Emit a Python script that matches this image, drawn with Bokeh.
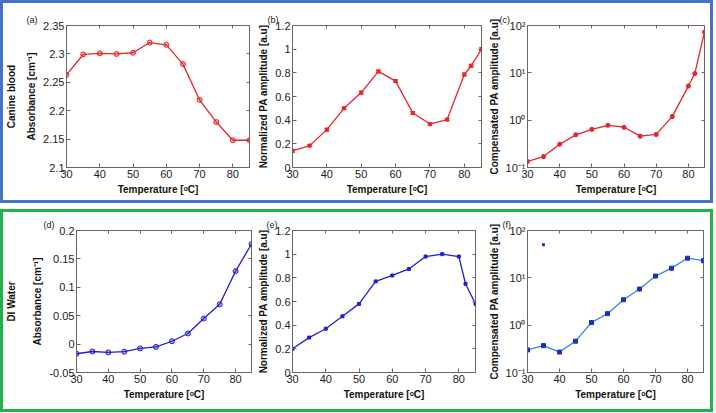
from bokeh.plotting import figure
from bokeh.layouts import row, column
from bokeh.models import (FixedTicker, LinearAxis, LogAxis, Whisker, TeeHead,
                          ColumnDataSource, CustomJSTickFormatter, Range1d)
from bokeh.embed import file_html
from bokeh.resources import INLINE

# ---------------- data ----------------
temp = [30, 35, 40, 45, 50, 55, 60, 65, 70, 75, 80, 85]
temp_pa = [30, 35, 40, 45, 50, 55, 60, 65, 70, 75, 80, 82, 85]

blood_abs = [2.263, 2.299, 2.301, 2.300, 2.302, 2.320, 2.316, 2.282, 2.219, 2.180, 2.148, 2.148]
blood_pa = [0.14, 0.185, 0.32, 0.50, 0.633, 0.812, 0.73, 0.46, 0.367, 0.405, 0.786, 0.86, 1.0]
blood_pa_err = [0.012, 0.01, 0.012, 0.01, 0.012, 0.012, 0.012, 0.012, 0.01, 0.01, 0.012, 0.012, 0.012]
blood_comp = [0.134, 0.17, 0.31, 0.49, 0.64, 0.78, 0.71, 0.46, 0.50, 1.2, 5.25, 9.7, 73.0]

water_abs = [-0.017, -0.013, -0.0146, -0.0134, -0.0076, -0.005, 0.005, 0.0187, 0.045, 0.070, 0.1285, 0.176]
water_pa = [0.20, 0.295, 0.37, 0.475, 0.58, 0.77, 0.82, 0.875, 0.98, 1.0, 0.98, 0.75, 0.58]
water_comp = [0.30, 0.37, 0.27, 0.46, 1.14, 1.75, 3.44, 5.8, 10.9, 16.0, 26.0, 23.0]
stray_x = [35]
stray_y = [50.0]

x_ticks = [30, 40, 50, 60, 70, 80]
abs_blood_ticks = [2.1, 2.15, 2.2, 2.25, 2.3, 2.35]
pa_ticks = [0, 0.2, 0.4, 0.6, 0.8, 1.0, 1.2]
abs_water_ticks = [-0.05, 0, 0.05, 0.1, 0.15, 0.2]
log_ticks = [0.1, 1, 10, 100]

RED = "#E4262B"
BLUE = "#2020D0"
LBLUE = "#3A86D8"
DBLUE = "#1A2FC0"
FONT = "Liberation Sans"
AX = "#666666"

lin_fmt = CustomJSTickFormatter(code="return String(Number(tick.toFixed(4)));")
log_fmt = CustomJSTickFormatter(code="""
const e = Math.round(Math.log10(tick));
const sup = {'-1': '\u207b\u00b9', '0': '\u2070', '1': '\u00b9', '2': '\u00b2'};
return '10' + sup[String(e)];
""")


def make_fig(width, height, left, right, top, bottom, y_range, yticks, ylabel,
             letter, letter_dx, log=False, label_lh=1.2):
    p = figure(width=width, height=height, output_backend="svg", toolbar_location=None,
               x_range=Range1d(30, 85), y_range=Range1d(*y_range),
               y_axis_type="log" if log else "linear",
               min_border_left=left, min_border_right=right,
               min_border_top=top, min_border_bottom=bottom)
    p.grid.visible = False
    p.outline_line_color = AX
    p.outline_line_width = 1
    p.background_fill_color = "white"
    p.border_fill_color = "white"

    # panel letter as a left-shifted title
    p.title.text = letter
    p.title.align = "left"
    p.title.offset = letter_dx
    p.title.standoff = 1
    p.title.text_font = FONT
    p.title.text_font_size = "9px"
    p.title.text_font_style = "normal"
    p.title.text_color = "#222222"

    xa = p.xaxis[0]
    ya = p.yaxis[0]
    xa.ticker = FixedTicker(ticks=x_ticks, minor_ticks=[])
    ya.ticker = FixedTicker(ticks=yticks, minor_ticks=[])
    xa.formatter = lin_fmt
    ya.formatter = log_fmt if log else lin_fmt
    xa.axis_label = "Temperature [\u1d52C]"
    ya.axis_label = ylabel
    for a in (xa, ya):
        a.axis_line_color = AX
        a.major_tick_line_color = AX
        a.major_tick_in = 4
        a.major_tick_out = 0
        a.minor_tick_line_color = None
        a.major_label_text_font = FONT
        a.major_label_text_font_size = "11px"
        a.major_label_text_color = "#222222"
        a.axis_label_text_font = FONT
        a.axis_label_text_font_size = "10px"
        a.axis_label_text_font_style = "bold"
        a.axis_label_text_color = "#111111"
        a.major_label_standoff = 2
        a.axis_label_standoff = 3
    ya.axis_label_text_line_height = label_lh

    # mirrored ticks on top and right (box style)
    AxCls = LogAxis if log else LinearAxis
    ra = AxCls(ticker=FixedTicker(ticks=yticks, minor_ticks=[]))
    ta = LinearAxis(ticker=FixedTicker(ticks=x_ticks, minor_ticks=[]))
    for a in (ra, ta):
        a.major_label_text_font_size = "1px"
        a.major_label_text_color = None
        a.major_label_standoff = 0
        a.major_tick_in = 3
        a.major_tick_out = 0
        a.major_tick_line_color = AX
        a.minor_tick_line_color = None
        a.axis_line_color = None
    p.add_layout(ra, "right")
    p.add_layout(ta, "above")
    return p


H = 197

# (a)
pa = make_fig(252, H, 60, 6, 22, 33, (2.1, 2.35), abs_blood_ticks,
              "Canine blood\nAbsorbance [cm\u207b\u00b9]", "(a)", -40, label_lh=1.8)
pa.line(temp, blood_abs, line_color=RED, line_width=1.3)
pa.scatter(temp, blood_abs, size=5, line_color=RED, fill_color=RED, fill_alpha=0.35)

# (b)
pb = make_fig(230, H, 32, 4, 22, 33, (0, 1.2), pa_ticks,
              "Normalized PA amplitude [a.u]", "(b)", -25)
pb.line(temp_pa, blood_pa, line_color=RED, line_width=1.3)
src_b = ColumnDataSource(dict(x=temp_pa, y=blood_pa,
                              lo=[v - e for v, e in zip(blood_pa, blood_pa_err)],
                              up=[v + e for v, e in zip(blood_pa, blood_pa_err)]))
pb.add_layout(Whisker(source=src_b, base="x", lower="lo", upper="up", line_color=RED,
                      line_width=1,
                      lower_head=TeeHead(size=5, line_color=RED, line_width=1),
                      upper_head=TeeHead(size=5, line_color=RED, line_width=1)))
pb.scatter("x", "y", source=src_b, marker="square", size=3, line_color=RED, fill_color=RED)

# (c)
pc = make_fig(225, H, 28, 6, 22, 33, (0.1, 100), log_ticks,
              "Compensated PA amplitude [a.u]", "(c)", -28, log=True)
pc.line(temp_pa, blood_comp, line_color=RED, line_width=1.3)
pc.scatter(temp_pa, blood_comp, marker="asterisk", size=5, line_color=RED, line_width=1.5)

# (d)
pd_ = make_fig(252, H, 63, 4, 18, 37, (-0.05, 0.2), abs_water_ticks,
               "DI Water\nAbsorbance [cm\u207b\u00b9]", "(d)", -33, label_lh=2.4)
pd_.line(temp, water_abs, line_color=BLUE, line_width=1.3)
pd_.scatter(temp, water_abs, size=5, line_color=BLUE, fill_color=BLUE, fill_alpha=0.35)

# (e)
pe = make_fig(230, H, 33, 10, 18, 37, (0, 1.2), pa_ticks,
              "Normalized PA amplitude [a.u]", "(e)", -26)
pe.line(temp_pa, water_pa, line_color=BLUE, line_width=1.3)
pe.scatter(temp_pa, water_pa, marker="square", size=3, line_color=BLUE, fill_color=BLUE)

# (f)
pf = make_fig(225, H, 27, 7, 18, 37, (0.1, 100), log_ticks,
              "Compensated PA amplitude [a.u]", "(f)", -25, log=True)
pf.line(temp, water_comp, line_color=LBLUE, line_width=1.3)
pf.scatter(temp, water_comp, marker="square", size=4, line_color=DBLUE, fill_color=DBLUE)
pf.scatter(stray_x, stray_y, marker="square", size=2, line_color=DBLUE, fill_color=DBLUE)

top = row(pa, pb, pc, spacing=0,
          styles={"border": "3px solid #4472C4", "background": "white"})
bottom = row(pd_, pe, pf, spacing=0,
             styles={"border": "3px solid #22B04B", "background": "white"})
layout = column(top, bottom, spacing=6)

open("out.html", "w").write(file_html(layout, INLINE))
